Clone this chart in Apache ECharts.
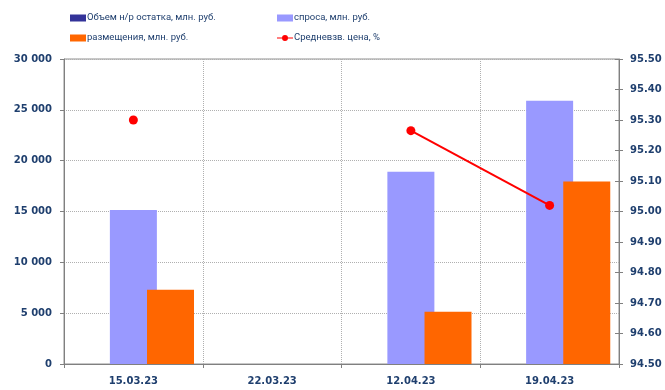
<!DOCTYPE html>
<html>
<head>
<meta charset="utf-8">
<script src="https://cdn.jsdelivr.net/npm/echarts@6/dist/echarts.min.js"></script>
<style>
  html, body { margin: 0; padding: 0; background: #fff; }
  #main { width: 665px; height: 390px; }
</style>
</head>
<body>
<div id="main"></div>
<script>
// data
var dates = ['15.03.23', '22.03.23', '12.04.23', '19.04.23'];
var ostatok = [0, 0, 0, 0];
var spros = [15150, null, 18900, 25900];
var razm = [7300, null, 5150, 17950];
var price = [95.30, null, 95.265, 95.02];

var navy = '#1F3F6E';
var gridGray = '#B0B0B0';
var axisFont = { color: navy, fontWeight: 'bold', fontSize: 10, fontFamily: 'DejaVu Sans' };
var legendText = { color: navy, fontSize: 9.5, fontFamily: 'Roboto', padding: [0, 0, 0, -4] };

var chart = echarts.init(document.getElementById('main'));

var option = {
    backgroundColor: '#fff',
    animation: false,
    legend: [
        {
            left: 65, top: 8, orient: 'vertical', itemGap: 10,
            itemWidth: 16, itemHeight: 7, icon: 'rect',
            textStyle: legendText,
            data: ['Объем н/р остатка, млн. руб.', 'размещения, млн. руб.']
        },
        {
            left: 272, top: 8, orient: 'vertical', itemGap: 10,
            itemWidth: 16, itemHeight: 7, icon: 'rect',
            textStyle: legendText,
            data: [
                'спроса, млн. руб.',
                { name: 'Средневзв. цена, %',
                  icon: 'path://M0,3.4L16,3.4L16,4.6L0,4.6Z M11,4A3,3,0,1,1,5,4A3,3,0,1,1,11,4Z' }
            ]
        }
    ],
    grid: { left: 64, right: 46, top: 59, bottom: 26, show: true, borderColor: '#909090', borderWidth: 1 },
    xAxis: {
        type: 'category',
        data: dates,
        axisLine: { lineStyle: { color: '#808080' } },
        axisTick: { show: true, length: 4, lineStyle: { color: '#808080' } },
        axisLabel: Object.assign({ margin: 12 }, axisFont),
        splitLine: { show: true, lineStyle: { color: gridGray, type: 'dotted' } }
    },
    yAxis: [
        {
            type: 'value', min: 0, max: 30000, interval: 5000,
            axisLine: { show: true, lineStyle: { color: '#808080' } },
            axisTick: { show: true, length: 4, lineStyle: { color: '#808080' } },
            axisLabel: Object.assign({
                margin: 12,
                formatter: function (v) { return String(v).replace(/\B(?=(\d{3})+(?!\d))/g, ' '); }
            }, axisFont),
            splitLine: { lineStyle: { color: gridGray, type: 'dotted' } }
        },
        {
            type: 'value', min: 94.5, max: 95.5, interval: 0.1, position: 'right',
            axisLine: { show: true, lineStyle: { color: '#808080' } },
            axisTick: { show: true, length: 4, lineStyle: { color: '#808080' } },
            axisLabel: Object.assign({
                margin: 11,
                formatter: function (v) { return v.toFixed(2); }
            }, axisFont),
            splitLine: { show: false }
        },
        {
            // inner half of the crossing ticks on the right axis
            type: 'value', min: 94.5, max: 95.5, interval: 0.1, position: 'right',
            axisLine: { show: false },
            axisTick: { show: true, inside: true, length: 4, lineStyle: { color: '#808080' } },
            axisLabel: { show: false },
            splitLine: { show: false }
        }
    ],
    series: [
        {
            name: 'Объем н/р остатка, млн. руб.', type: 'bar', data: ostatok,
            barWidth: 47, barGap: '-21%',
            itemStyle: { color: '#333399' }
        },
        {
            name: 'спроса, млн. руб.', type: 'bar', data: spros,
            barWidth: 47, barGap: '-21%',
            itemStyle: { color: '#9999FF' }
        },
        {
            name: 'размещения, млн. руб.', type: 'bar', data: razm,
            barWidth: 47, barGap: '-21%',
            itemStyle: { color: '#FF6600' }
        },
        {
            name: 'Средневзв. цена, %', type: 'line', yAxisIndex: 1, data: price,
            connectNulls: false,
            symbol: 'circle', symbolSize: 9,
            lineStyle: { color: '#FF0000', width: 2 },
            itemStyle: { color: '#FF0000' },
            z: 5
        }
    ]
};

chart.setOption(option);
</script>
</body>
</html>
